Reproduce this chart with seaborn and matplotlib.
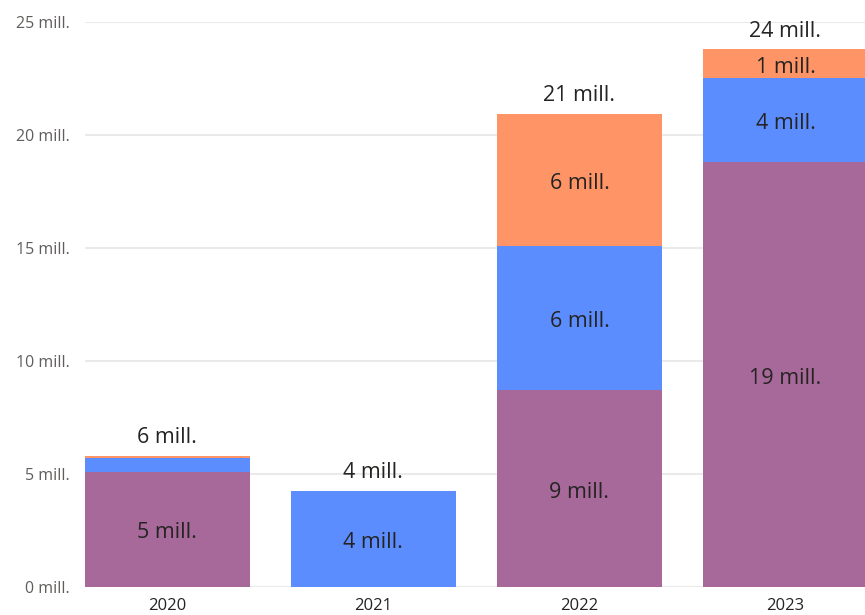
import numpy as np
import pandas as pd
import seaborn as sns
import matplotlib.pyplot as plt

years = ["2020", "2021", "2022", "2023"]
purple_vals = [5.1, 0.0, 8.7, 18.8]
blue_vals = [0.6, 4.25, 6.4, 3.7]
orange_vals = [0.1, 0.0, 5.85, 1.3]
y_ticks = [0, 5, 10, 15, 20, 25]

c_purple = "#A66999"
c_blue = "#5B8DFE"
c_orange = "#FF9466"

sns.set_theme(style="white")
plt.rcParams["font.family"] = ["Open Sans", "DejaVu Sans"]

purple = np.array(purple_vals)
blue = np.array(blue_vals)
orange = np.array(orange_vals)
df = pd.DataFrame({
    "year": years,
    "p": purple,
    "pb": purple + blue,
    "total": purple + blue + orange,
})

fig = plt.figure(figsize=(8.65, 6.15), dpi=100)
ax = fig.add_axes([85 / 865, 28 / 615, 1 - 85 / 865, 565 / 615])

# stacked by overlaying cumulative heights
sns.barplot(data=df, x="year", y="total", color=c_orange, saturation=1, width=0.8, linewidth=0, ax=ax)
sns.barplot(data=df, x="year", y="pb", color=c_blue, saturation=1, width=0.8, linewidth=0, ax=ax)
sns.barplot(data=df, x="year", y="p", color=c_purple, saturation=1, width=0.8, linewidth=0, ax=ax)

ax.set_ylim(0, 25)
ax.set_xlim(-0.4, 3.386)
ax.set_yticks(y_ticks)
ax.set_yticklabels([f"{t} mill." for t in y_ticks])
ax.yaxis.grid(True, color="#EAEAEA", linewidth=1.5)
ax.set_axisbelow(True)
for s in ax.spines.values():
    s.set_visible(False)
ax.set_xlabel("")
ax.set_ylabel("")
ax.tick_params(axis="y", labelsize=11.5, colors="#605E5C", pad=11, length=0)
ax.tick_params(axis="x", labelsize=12, colors="#252423", pad=8, length=0)

lab_font = dict(fontsize=15.5, color="#252423")

bottoms = [np.zeros(4), purple, purple + blue]
for vals, bot in zip([purple, blue, orange], bottoms):
    for i, v in enumerate(vals):
        if v >= 1.0:
            ax.annotate(f"{round(v):.0f} mill.", (i, bot[i] + v / 2), xytext=(0, -2.5),
                        textcoords="offset points", ha="center", va="center", **lab_font)

totals = purple + blue + orange
for i, t in enumerate(totals):
    ax.annotate(f"{round(t):.0f} mill.", (i, t), xytext=(0, 13), textcoords="offset points",
                ha="center", va="center", annotation_clip=False, **lab_font)

fig.savefig("out.png", dpi=100)
